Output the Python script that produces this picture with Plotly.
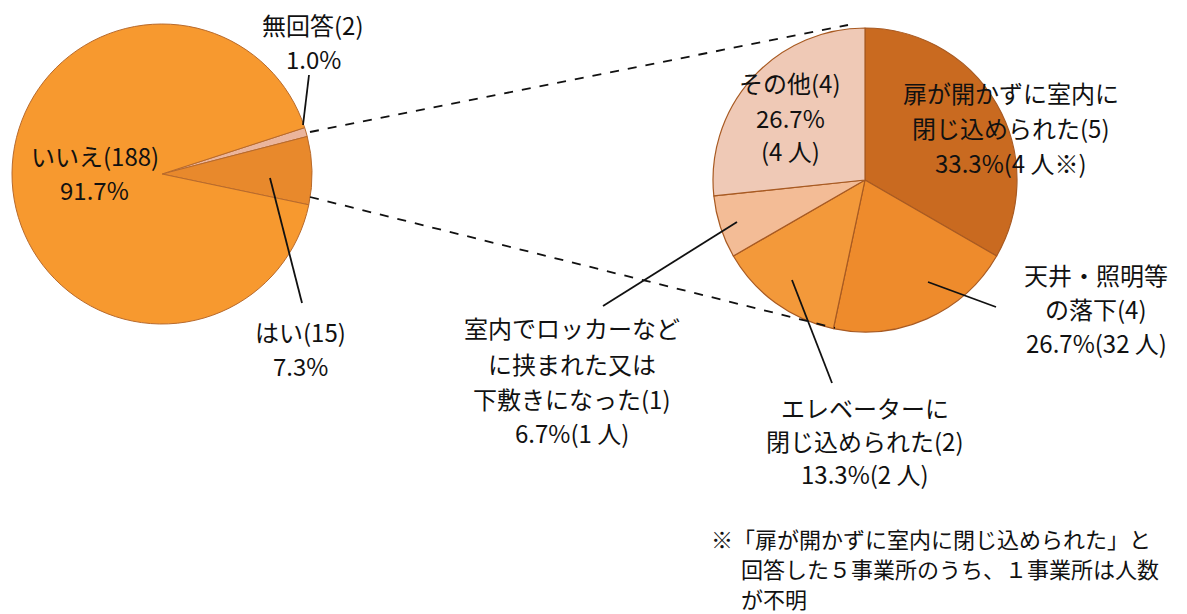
import plotly.graph_objects as go

W, H = 1187, 614
OFF = 8  # page body margin
FW, FH = W - OFF, H - OFF

# Left pie: overall answers
left_labels = ["無回答", "はい", "いいえ"]
left_values = [2, 15, 188]
left_colors = ["#EBB59C", "#E8892C", "#F7992F"]

# Right pie: breakdown of "はい" (slice sizes as drawn)
right_labels = ["扉が開かずに室内に閉じ込められた", "天井・照明等の落下",
                "エレベーターに閉じ込められた", "室内でロッカーなどに挟まれた又は下敷きになった", "その他"]
right_values = [5, 3, 2, 1, 4]
right_colors = ["#C96A20", "#EE8B2C", "#F3993A", "#F3BC96", "#EFC9B6"]

# Label texts (one entry per line)
label_lines = [
    (["無回答(2)", "1.0%"], 313, [25, 58]),
    (["いいえ(188)", "91.7%"], 95, [155, 190]),
    (["はい(15)", "7.3%"], 300, [331, 365]),
    (["その他(4)", "26.7%", "(4 人)"], 790, [82, 117, 150]),
    (["扉が開かずに室内に", "閉じ込められた(5)", "33.3%(4 人※)"], 1011, [92, 127, 162]),
    (["天井・照明等", "の落下(4)", "26.7%(32 人)"], 1096, [275, 308, 342]),
    (["室内でロッカーなど", "に挟まれた又は", "下敷きになった(1)", "6.7%(1 人)"], 572, [328, 363, 398, 432]),
    (["エレベーターに", "閉じ込められた(2)", "13.3%(2 人)"], 865, [407, 440, 473]),
]
footnote_lines = [
    ("※「扉が開かずに室内に閉じ込められた」と", 710, 538),
    ("回答した５事業所のうち、１事業所は人数", 740, 568),
    ("が不明", 740, 598),
]


def px(x, y):
    return (x - OFF) / FW, 1 - (y - OFF) / FH


def dom(x0, x1, y0, y1):
    a0, b0 = px(x0, y1)
    a1, b1 = px(x1, y0)
    return dict(x=[a0, a1], y=[b0, b1])


fig = go.Figure()
fig.add_trace(go.Pie(
    labels=left_labels, values=left_values, sort=False, direction="clockwise",
    rotation=72, textinfo="none", hoverinfo="label+value",
    marker=dict(colors=left_colors, line=dict(color="#B86A2C", width=1)),
    domain=dom(12, 312, 24, 324),
    showlegend=False,
))
fig.add_trace(go.Pie(
    labels=right_labels, values=right_values, sort=False, direction="clockwise",
    rotation=0, textinfo="none", hoverinfo="label+value",
    marker=dict(colors=right_colors, line=dict(color="#A85A22", width=1.2)),
    domain=dom(713, 1017, 28, 332),
    showlegend=False,
))

FONT = dict(family="Noto Sans CJK JP, sans-serif", size=24, color="#111111")
FOOT_FONT = dict(family="Noto Sans CJK JP, sans-serif", size=22, color="#111111")

annotations = []
for lines, x, ys in label_lines:
    for text, y in zip(lines, ys):
        ax, ay = px(x, y)
        annotations.append(dict(text=text, x=ax, y=ay, xref="paper", yref="paper",
                                showarrow=False, font=FONT, borderpad=0,
                                xanchor="center", yanchor="middle"))
for text, x, y in footnote_lines:
    ax, ay = px(x, y)
    annotations.append(dict(text=text, x=ax, y=ay, xref="paper", yref="paper",
                            showarrow=False, font=FOOT_FONT, borderpad=0,
                            xanchor="left", yanchor="middle"))

shapes = []
# dashed connectors
for (x0, y0, x1, y1) in [(310, 132, 848, 25), (310, 197, 835, 328)]:
    a0, b0 = px(x0, y0)
    a1, b1 = px(x1, y1)
    shapes.append(dict(type="line", xref="paper", yref="paper", x0=a0, y0=b0, x1=a1, y1=b1,
                       line=dict(color="#111111", width=1.8, dash="dash")))
# leader lines
for (x0, y0, x1, y1) in [(303, 125, 309, 75), (270, 178, 302, 303), (737, 222, 603, 306),
                         (792, 280, 832, 383), (928, 282, 996, 307)]:
    a0, b0 = px(x0, y0)
    a1, b1 = px(x1, y1)
    shapes.append(dict(type="line", xref="paper", yref="paper", x0=a0, y0=b0, x1=a1, y1=b1,
                       line=dict(color="#111111", width=1.8)))

fig.update_layout(
    width=FW, height=FH, margin=dict(l=0, r=0, t=0, b=0),
    paper_bgcolor="white", plot_bgcolor="white",
    annotations=annotations, shapes=shapes,
)
fig.write_html("out.html")
